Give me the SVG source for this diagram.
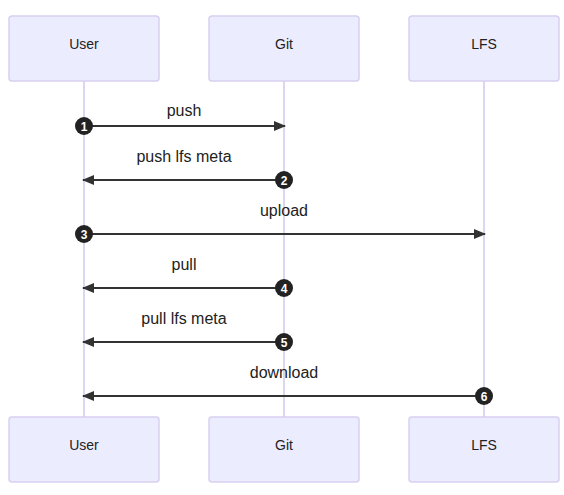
<svg xmlns="http://www.w3.org/2000/svg" width="564" height="495" viewBox="0 0 564 495">
<defs>
<marker id="arrow" viewBox="0 0 12 10" refX="11" refY="5" markerWidth="12" markerHeight="10" markerUnits="userSpaceOnUse" orient="auto">
<path d="M0,0 L12,5 L0,10 z" fill="#333"/>
</marker>
</defs>
<style>
.actor{fill:#ECECFF;stroke:#D7D0F0;stroke-width:1.5}
.alabel{font-family:"Liberation Sans",Arial,sans-serif;font-size:14px;fill:#222;text-anchor:middle;dominant-baseline:central}
.life{stroke:#D2C9EE;stroke-width:1.5}
.msg{stroke:#333;stroke-width:2;fill:none;marker-end:url(#arrow)}
.mlabel{font-family:"Liberation Sans",Arial,sans-serif;font-size:16px;fill:#222;text-anchor:middle}
.num circle{fill:#222}
.num text{font-family:"Liberation Sans",Arial,sans-serif;font-size:12px;font-weight:bold;fill:#fff;text-anchor:middle;dominant-baseline:central}
</style>
<g id="lifelines">
<line class="life" x1="84" y1="81" x2="84" y2="417"/>
<line class="life" x1="284" y1="81" x2="284" y2="417"/>
<line class="life" x1="484" y1="81" x2="484" y2="417"/>
</g>
<g id="actor-user-top"><rect class="actor" x="9" y="16" width="150" height="65" rx="3"/><text class="alabel" x="84" y="43.5">User</text></g>
<g id="actor-git-top"><rect class="actor" x="209" y="16" width="150" height="65" rx="3"/><text class="alabel" x="284" y="43.5">Git</text></g>
<g id="actor-lfs-top"><rect class="actor" x="409" y="16" width="150" height="65" rx="3"/><text class="alabel" x="484" y="43.5">LFS</text></g>
<g id="actor-user-bottom"><rect class="actor" x="9" y="417" width="150" height="65" rx="3"/><text class="alabel" x="84" y="444.5">User</text></g>
<g id="actor-git-bottom"><rect class="actor" x="209" y="417" width="150" height="65" rx="3"/><text class="alabel" x="284" y="444.5">Git</text></g>
<g id="actor-lfs-bottom"><rect class="actor" x="409" y="417" width="150" height="65" rx="3"/><text class="alabel" x="484" y="444.5">LFS</text></g>
<g id="connectors">
<line class="msg" x1="84" y1="126" x2="285" y2="126"/>
<line class="msg" x1="284" y1="180" x2="83" y2="180"/>
<line class="msg" x1="84" y1="234" x2="485" y2="234"/>
<line class="msg" x1="284" y1="288" x2="83" y2="288"/>
<line class="msg" x1="284" y1="342" x2="83" y2="342"/>
<line class="msg" x1="484" y1="396" x2="83" y2="396"/>
</g>
<g id="labels">
<text class="mlabel" x="184" y="116">push</text>
<text class="mlabel" x="184" y="162">push lfs meta</text>
<text class="mlabel" x="284" y="216">upload</text>
<text class="mlabel" x="184" y="270">pull</text>
<text class="mlabel" x="184" y="324">pull lfs meta</text>
<text class="mlabel" x="284" y="378">download</text>
</g>
<g id="sequence-numbers">
<g class="num"><circle cx="84" cy="126" r="9"/><text x="84" y="126.5">1</text></g>
<g class="num"><circle cx="284" cy="180" r="9"/><text x="284" y="180.5">2</text></g>
<g class="num"><circle cx="84" cy="234" r="9"/><text x="84" y="234.5">3</text></g>
<g class="num"><circle cx="284" cy="288" r="9"/><text x="284" y="288.5">4</text></g>
<g class="num"><circle cx="284" cy="342" r="9"/><text x="284" y="342.5">5</text></g>
<g class="num"><circle cx="484" cy="396" r="9"/><text x="484" y="396.5">6</text></g>
</g>
</svg>
